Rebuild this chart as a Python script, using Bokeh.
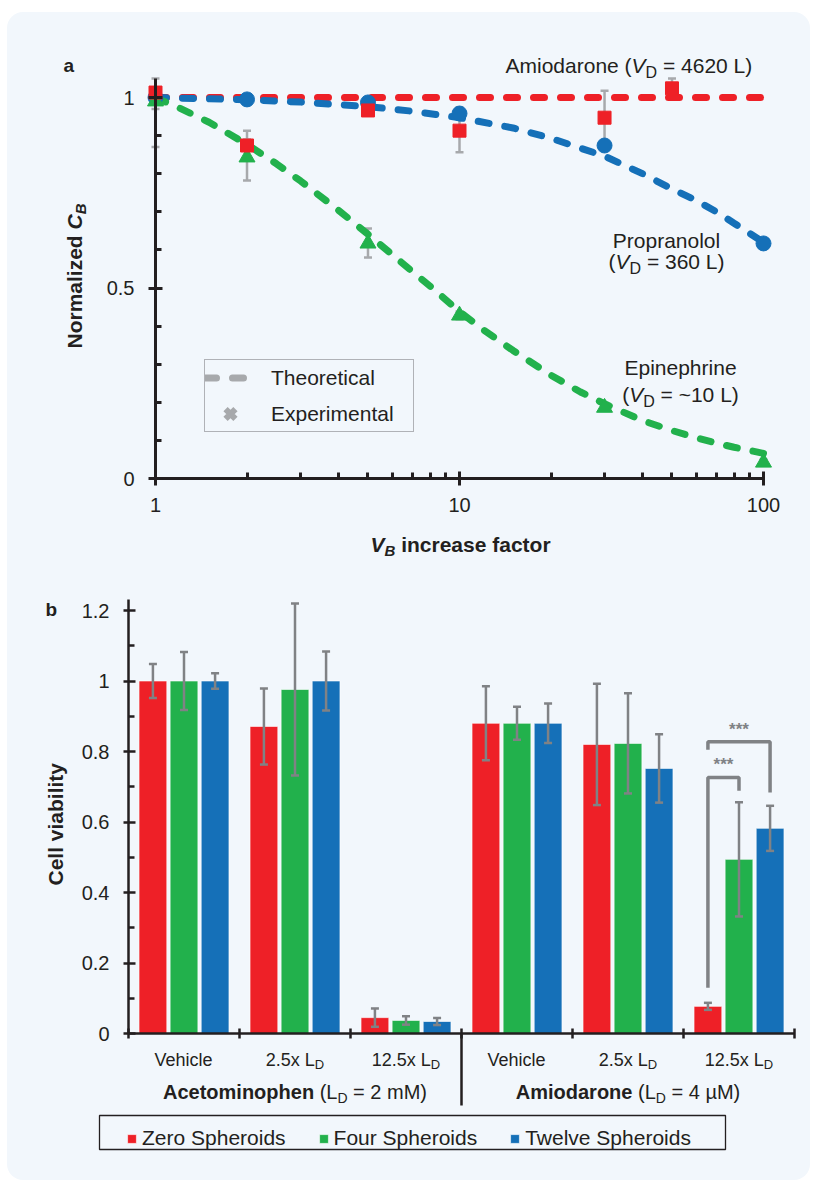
import math
from bokeh.plotting import figure
from bokeh.layouts import column
from bokeh.models import (ColumnDataSource, Whisker, TeeHead, Label, Legend, LegendItem,
                          FixedTicker, BoxAnnotation, Arrow)
from bokeh.embed import file_html
from bokeh.resources import INLINE
from bokeh.core.properties import value

# ---------------- data: panel a ----------------
vb_factor_amio = [1, 2, 5, 10, 30, 50]
cb_amio = [1.013, 0.874, 0.966, 0.913, 0.947, 1.024]
cb_amio_lo = [0.87, 0.86, 0.955, 0.856, 0.879, 1.0]
cb_amio_hi = [1.05, 0.89, 0.975, 0.974, 1.018, 1.05]

vb_factor_prop = [1, 2, 5, 10, 30, 100]
cb_prop = [1.0, 0.995, 0.987, 0.958, 0.874, 0.617]
cb_prop_lo = [0.99, 0.985, 0.977, 0.948, 0.864, 0.607]
cb_prop_hi = [1.01, 1.005, 0.997, 0.968, 0.884, 0.627]

vb_factor_epi = [1, 2, 5, 10, 30, 100]
cb_epi = [0.99, 0.843, 0.617, 0.428, 0.186, 0.042]
cb_epi_lo = [0.97, 0.782, 0.58, 0.418, 0.178, 0.035]
cb_epi_hi = [1.01, 0.913, 0.656, 0.438, 0.195, 0.05]

theory_x_amio = [1, 100]
theory_amio = [1.0, 1.0]
theory_x_prop = [1, 2, 3, 5, 7, 10, 15, 20, 30, 40, 50, 60, 70, 80, 100]
theory_prop = [1.0, 0.994, 0.988, 0.976, 0.964, 0.947, 0.920, 0.893, 0.846, 0.80, 0.76, 0.73,
               0.70, 0.67, 0.62]
theory_x_epi = [1, 1.2, 1.5, 2, 2.5, 3, 4, 5, 6, 7, 8, 10, 12, 15, 20, 25, 30, 40, 50, 60, 70,
                80, 100]
theory_epi = [1.0, 0.972, 0.935, 0.877, 0.826, 0.781, 0.704, 0.641, 0.588, 0.543, 0.505, 0.438,
              0.390, 0.336, 0.271, 0.227, 0.196, 0.152, 0.126, 0.107, 0.093, 0.082, 0.066]

drug_labels_a = ["Amiodarone", "Propranolol", "Epinephrine"]
vd_labels_a = ["4620 L", "360 L", "~10 L"]

x_ticks_a = [1, 10, 100]
x_minor_a = [2, 3, 4, 5, 6, 7, 8, 9, 20, 30, 40, 50, 60, 70, 80, 90]
y_ticks_a = [0, 0.5, 1]
y_minor_a = [0.1, 0.2, 0.3, 0.4, 0.6, 0.7, 0.8, 0.9]

# ---------------- data: panel b ----------------
doses = ["Vehicle", "2.5x L", "12.5x L"]
dose_sub = ["", "D", "D"]
drugs = ["Acetominophen", "Amiodarone"]
drug_ld = ["2 mM", "4 \u00b5M"]
series_names = ["Zero Spheroids", "Four Spheroids", "Twelve Spheroids"]
zero = [1.0, 0.871, 0.045, 0.880, 0.820, 0.077]
zero_err = [0.048, 0.108, 0.026, 0.105, 0.172, 0.010]
four = [1.0, 0.976, 0.037, 0.880, 0.823, 0.494]
four_err = [0.082, 0.244, 0.012, 0.047, 0.142, 0.162]
twelve = [1.0, 1.0, 0.034, 0.880, 0.752, 0.582]
twelve_err = [0.022, 0.084, 0.010, 0.056, 0.097, 0.064]

y_ticks_b = [0, 0.2, 0.4, 0.6, 0.8, 1, 1.2]
y_minor_b = [0.1, 0.3, 0.5, 0.7, 0.9, 1.1]

# significance brackets in the 12.5x amiodarone group: (series a, series b)
bracket_pairs = [(0, 1), (0, 2)]
bracket_left_bottom = [0.13, 0.805]
bracket_top = [0.726, 0.828]
bracket_right_bottom = [0.689, 0.684]
bracket_star_y = [0.763, 0.862]
bracket_group = 5

# ---------------- style ----------------
PANEL = "#f2f7fc"
TXT = "#231f20"
AX = "#231f20"
RED = "#ee2027"
GREEN = "#22b14c"
BLUE = "#1570b8"
GREY_A = "#a7a9ac"
GREY_B = "#808285"
FONT = "Liberation Sans"

REG = {' ': 278, '(': 333, ')': 333, '=': 584, '~': 584, '.': 278, 'x': 500, 'L': 556,
       'D': 722, 'V': 667, 'A': 667, 'm': 833, 'i': 222, 'o': 556, 'd': 556, 'a': 556,
       'r': 333, 'n': 556, 'e': 556, 'P': 667, 'p': 556, 'l': 222, 'h': 556, 'M': 833,
       '\u00b5': 576, 'c': 500, 'E': 667}
BLD = {' ': 278, 'A': 722, 'c': 556, 'e': 556, 't': 333, 'o': 611, 'm': 889, 'i': 278,
       'n': 611, 'p': 611, 'h': 611, 'd': 611, 'a': 556, 'r': 389, 'N': 722, 'z': 500,
       'l': 278, 'C': 722, 'V': 667, 'B': 722, 's': 556, 'f': 333, 'b': 611, 'v': 556,
       'y': 556}


def tw(s, size, style):
    tbl = BLD if "bold" in style else REG
    return sum(tbl.get(c, 556) for c in s) * size / 1000.0


def put(fig, conv, px, py, text, size, style="normal", angle=0.0, align="left", color=TXT):
    x, y = conv(px, py)
    fig.add_layout(Label(x=x, y=y, text=text, text_font=FONT, text_font_size=f"{size}px",
                         text_font_style=style, text_color=color, text_align=align,
                         text_baseline="middle", angle=angle))


def rich(fig, conv, pieces, px, py, center=False):
    total = sum(tw(t, s, st) for t, s, st, _ in pieces)
    pos = px - total / 2 if center else px
    for t, s, st, sh in pieces:
        lead = len(t) - len(t.lstrip(' '))
        trail = len(t) - len(t.rstrip(' '))
        sp = tw(' ', s, st)
        pos += lead * sp
        core = t.strip(' ')
        if core:
            put(fig, conv, pos, py + sh, core, s, st)
        pos += tw(core, s, st) + trail * sp


def rich_up(fig, conv, pieces, px, py):
    pos = py
    for t, s, st, sh in pieces:
        lead = len(t) - len(t.lstrip(' '))
        trail = len(t) - len(t.rstrip(' '))
        sp = tw(' ', s, st)
        pos -= lead * sp
        core = t.strip(' ')
        if core:
            put(fig, conv, px + sh, pos, core, s, st, angle=math.pi / 2)
        pos -= tw(core, s, st) + trail * sp


def style_axis(ax, lw, mj_in, mj_out, mn_in, size):
    ax.axis_line_color = AX
    ax.axis_line_width = lw
    ax.major_tick_line_color = AX
    ax.major_tick_line_width = lw
    ax.major_tick_in = mj_in
    ax.major_tick_out = mj_out
    ax.minor_tick_line_color = AX
    ax.minor_tick_line_width = lw
    ax.minor_tick_in = mn_in
    ax.minor_tick_out = 0
    ax.major_label_text_font = FONT
    ax.major_label_text_font_size = size
    ax.major_label_text_color = TXT


# page geometry: the column starts at page (7, 12); panel a is 803x555, panel b 803x613
OX, OY = 7, 12


# ================= panel a =================
def a_xy(px, py):
    return 10 ** ((px - 155) / 304.0), (478 - py) / 381.0


ax0, ay1 = a_xy(OX, OY)
ax1, ay0 = a_xy(OX + 803, OY + 555)
p1 = figure(width=803, height=555, x_axis_type="log", x_range=(ax0, ax1), y_range=(ay0, ay1),
            output_backend="svg", toolbar_location=None, min_border=0,
            min_border_left=0, min_border_right=0, min_border_top=0, min_border_bottom=0,
            background_fill_alpha=0, border_fill_alpha=0, outline_line_color=None)
p1.grid.visible = False
style_axis(p1.xaxis[0], 3, 7, 7, 6, "20px")
style_axis(p1.yaxis[0], 3, 7, 7, 6, "20px")
p1.xaxis.fixed_location = 0
p1.yaxis.fixed_location = 1
p1.xaxis.bounds = (1, 100)
p1.yaxis.bounds = (0, 1.05)
p1.xaxis.ticker = FixedTicker(ticks=x_ticks_a, minor_ticks=x_minor_a)
p1.yaxis.ticker = FixedTicker(ticks=y_ticks_a, minor_ticks=y_minor_a)
p1.xaxis.major_label_overrides = {t: str(t) for t in x_ticks_a}
p1.yaxis.major_label_overrides = {0: "0", 0.5: "0.5", 1: "1"}
p1.xaxis.major_label_standoff = 12
p1.yaxis.major_label_standoff = 14

dash = "11 16"
p1.line(theory_x_amio, theory_amio, line_color=RED, line_width=7, line_dash=dash, line_cap="round")
p1.line(theory_x_prop, theory_prop, line_color=BLUE, line_width=7, line_dash=dash, line_cap="round")
p1.line(theory_x_epi, theory_epi, line_color=GREEN, line_width=7, line_dash=dash, line_cap="round")

for xs, lo, hi in [(vb_factor_amio, cb_amio_lo, cb_amio_hi),
                   (vb_factor_prop, cb_prop_lo, cb_prop_hi),
                   (vb_factor_epi, cb_epi_lo, cb_epi_hi)]:
    src = ColumnDataSource(dict(x=xs, lo=lo, hi=hi))
    p1.add_layout(Whisker(source=src, base="x", lower="lo", upper="hi", dimension="height",
                          line_color=GREY_A, line_width=2.5,
                          upper_head=TeeHead(size=8, line_color=GREY_A, line_width=2.5),
                          lower_head=TeeHead(size=8, line_color=GREY_A, line_width=2.5)))

p1.scatter(vb_factor_prop, cb_prop, marker="circle", size=15, fill_color=BLUE, line_color=BLUE)
p1.scatter(vb_factor_epi, cb_epi, marker="triangle", size=16, fill_color=GREEN, line_color=GREEN)
p1.scatter(vb_factor_amio, cb_amio, marker="square", size=13, fill_color=RED, line_color=RED)

nan = float("nan")
leg_line = p1.line([nan, nan], [nan, nan], line_color=GREY_A, line_width=7, line_dash=dash,
                   line_cap="round")
leg_x = p1.scatter([nan], [nan], marker="x", size=16, line_color=GREY_A, line_width=6)
leg_a = Legend(items=[LegendItem(label="Theoretical", renderers=[leg_line]),
                      LegendItem(label="Experimental", renderers=[leg_x])],
               location=(204 - OX, OY + 555 - 432), margin=0, padding=0, spacing=1,
               glyph_width=50, glyph_height=35, label_height=35, label_width=142,
               label_standoff=16, label_text_font=FONT, label_text_font_size="21px",
               label_text_color=TXT, border_line_color="#6d6e71", border_line_width=1.2,
               background_fill_alpha=0)
p1.add_layout(leg_a)

# texts panel a
put(p1, a_xy, 63, 65, "a", 19, "bold")
rich(p1, a_xy, [(drug_labels_a[0] + " (", 21, "normal", 0), ("V", 21, "italic", 0),
                ("D", 16, "normal", 7), (" = " + vd_labels_a[0] + ")", 21, "normal", 0)],
     505, 65)
rich(p1, a_xy, [(drug_labels_a[1], 21, "normal", 0)], 666, 240, center=True)
rich(p1, a_xy, [("(", 21, "normal", 0), ("V", 21, "italic", 0), ("D", 16, "normal", 7),
                (" = " + vd_labels_a[1] + ")", 21, "normal", 0)], 666, 261, center=True)
rich(p1, a_xy, [(drug_labels_a[2], 21, "normal", 0)], 680, 367, center=True)
rich(p1, a_xy, [("(", 21, "normal", 0), ("V", 21, "italic", 0), ("D", 16, "normal", 7),
                (" = " + vd_labels_a[2] + ")", 21, "normal", 0)], 680, 394, center=True)
rich(p1, a_xy, [("V", 21, "bold italic", 0), ("B", 15, "bold italic", 6),
                (" increase factor", 21, "bold", 0)], 370, 544)
rich_up(p1, a_xy, [("Normalized ", 21, "bold", 0), ("C", 21, "bold italic", 0),
                   ("B", 15, "bold italic", 6)], 74, 348)


# ================= panel b =================
def b_xy(px, py):
    return (px - 128) / 111.0, (1033 - py) / 352.5


OY2 = OY + 555
bx0, by1 = b_xy(OX, OY2)
bx1, by0 = b_xy(OX + 803, OY2 + 613)
p2 = figure(width=803, height=613, x_range=(bx0, bx1), y_range=(by0, by1),
            output_backend="svg", toolbar_location=None, min_border=0,
            min_border_left=0, min_border_right=0, min_border_top=0, min_border_bottom=0,
            background_fill_alpha=0, border_fill_alpha=0, outline_line_color=None)
p2.grid.visible = False
style_axis(p2.xaxis[0], 2.5, 5, 5, 0, "16px")
style_axis(p2.yaxis[0], 2.5, 7, 5, 6, "20px")
p2.xaxis.fixed_location = 0
p2.yaxis.fixed_location = 0
p2.xaxis.bounds = (0, 6)
p2.yaxis.bounds = (0, 434 / 352.5)
p2.xaxis.ticker = FixedTicker(ticks=[0, 1, 2, 3, 4, 5, 6], minor_ticks=[])
p2.xaxis.major_label_overrides = {i: "" for i in range(7)}
p2.yaxis.ticker = FixedTicker(ticks=y_ticks_b, minor_ticks=y_minor_b)
p2.yaxis.major_label_overrides = {t: ("%g" % t) for t in y_ticks_b}
p2.yaxis.major_label_standoff = 14

offsets = [-0.28, 0.0, 0.28]
bar_w = 0.25
centers = [i + 0.5 for i in range(6)]
renderers = []
for k, (vals, errs, col) in enumerate([(zero, zero_err, RED), (four, four_err, GREEN),
                                        (twelve, twelve_err, BLUE)]):
    xs = [c + offsets[k] for c in centers]
    r = p2.vbar(x=xs, top=vals, width=bar_w, fill_color=col, line_color="white",
                line_alpha=0.6, line_width=1)
    renderers.append(r)
    src = ColumnDataSource(dict(x=xs, lo=[v - e for v, e in zip(vals, errs)],
                                hi=[v + e for v, e in zip(vals, errs)]))
    p2.add_layout(Whisker(source=src, base="x", lower="lo", upper="hi", dimension="height",
                          line_color=GREY_B, line_width=2.5, level="annotation",
                          upper_head=TeeHead(size=8, line_color=GREY_B, line_width=2.5),
                          lower_head=TeeHead(size=8, line_color=GREY_B, line_width=2.5)))

bxs, bys, sx = [], [], []
for (a, b), lb, top, rb in zip(bracket_pairs, bracket_left_bottom, bracket_top,
                               bracket_right_bottom):
    xa = centers[bracket_group] + offsets[a]
    xb = centers[bracket_group] + offsets[b]
    bxs.append([xa, xa, xb, xb])
    bys.append([lb, top, top, rb])
    sx.append((xa + xb) / 2)
p2.multi_line(bxs, bys, line_color=GREY_B, line_width=3.5)
p2.text(x=sx, y=bracket_star_y, text=["***", "***"], text_font=value(FONT),
        text_font_size="17px", text_font_style="bold", text_color=GREY_B,
        text_align="center", text_baseline="middle")

# group separator
p2.add_layout(Arrow(x_start=3, y_start=0, x_end=3, y_end=b_xy(0, 1105)[1], start=None, end=None,
                    line_color=AX, line_width=2.5))

leg_b = Legend(items=[LegendItem(label=n, renderers=[r]) for n, r in zip(series_names, renderers)],
               orientation="horizontal", location=(126 - OX, OY2 + 613 - 1150), margin=0,
               padding=6, spacing=32, glyph_width=11, glyph_height=11, label_height=21,
               label_standoff=5, label_text_font=FONT, label_text_font_size="21px",
               label_text_color=TXT, border_line_color=None, background_fill_alpha=0)
p2.add_layout(leg_b)
l0, t0 = b_xy(99, 1115)
r0, b0 = b_xy(725, 1149)
p2.add_layout(BoxAnnotation(left=l0, right=r0, top=t0, bottom=b0, fill_alpha=0,
                            line_color=AX, line_width=1.3, line_alpha=1))

# texts panel b
put(p2, b_xy, 45, 609, "b", 19, "bold")
rich_up(p2, b_xy, [("Cell viability", 21, "bold", 0)], 55, 885)
for gi in range(6):
    cx = 128 + 111 * (gi + 0.5)
    d = gi % 3
    pcs = [(doses[d], 18, "normal", 0)]
    if dose_sub[d]:
        pcs.append((dose_sub[d], 13, "normal", 5))
    rich(p2, b_xy, pcs, cx, 1059, center=True)
for di in range(2):
    cx = 128 + 111 * (3 * di + 1.5)
    rich(p2, b_xy, [(drugs[di], 20, "bold", 0), (" (L", 20, "normal", 0), ("D", 14, "normal", 6),
                    (" = " + drug_ld[di] + ")", 20, "normal", 0)], cx, 1091, center=True)

layout = column(p1, p2, spacing=0, margin=(OY, 0, 0, OX),
                styles={"background-color": PANEL, "border-radius": "16px"})
open("out.html", "w").write(file_html(layout, INLINE))
